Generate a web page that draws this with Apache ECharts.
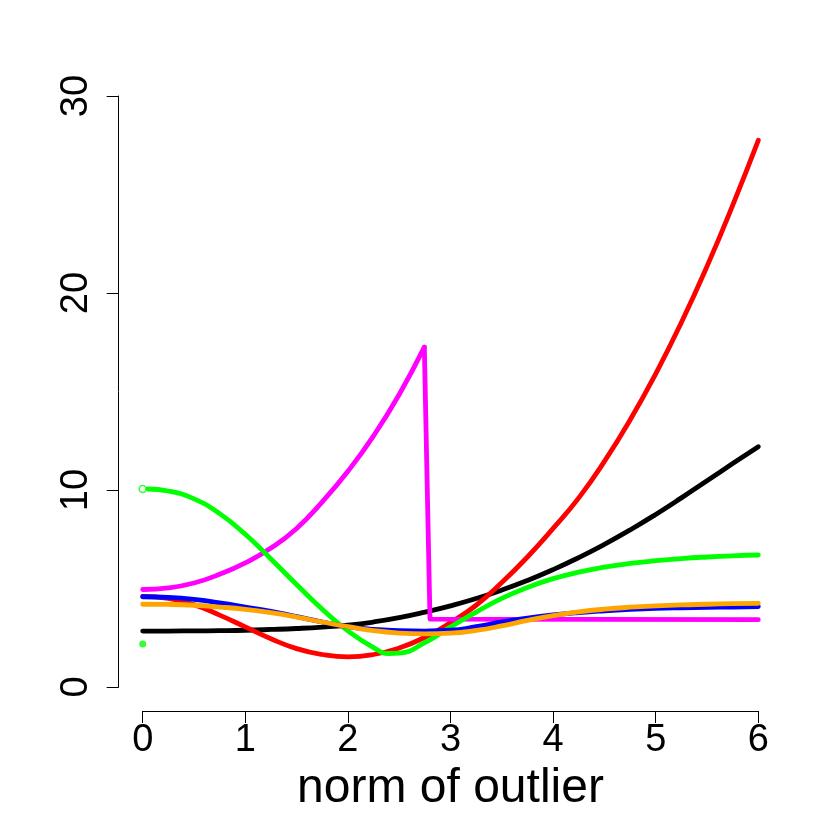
<!DOCTYPE html>
<html>
<head>
<meta charset="utf-8">
<script src="https://cdn.jsdelivr.net/npm/echarts@6/dist/echarts.min.js"></script>
<style>
  html, body { margin: 0; padding: 0; background: #ffffff; }
  #chart { width: 830px; height: 830px; }
</style>
</head>
<body>
<div id="chart"></div>
<script>
// ---- data ----
const xGrid = [0, 0.25, 0.5, 0.75, 1, 1.25, 1.5, 1.75, 2, 2.25, 2.5, 2.75, 3, 3.25, 3.5, 3.75, 4, 4.25, 4.5, 4.75, 5, 5.25, 5.5, 5.75, 6];
const blackVals  = [2.84, 2.84, 2.85, 2.86, 2.88, 2.92, 2.97, 3.04, 3.14, 3.30, 3.52, 3.80, 4.12, 4.49, 4.92, 5.41, 5.96, 6.57, 7.24, 7.97, 8.76, 9.60, 10.47, 11.34, 12.2];
const redVals    = [4.60, 4.50, 4.18, 3.65, 3.05, 2.45, 1.95, 1.65, 1.53, 1.65, 1.98, 2.52, 3.27, 4.15, 5.30, 6.60, 8.05, 9.60, 11.45, 13.55, 15.9, 18.5, 21.35, 24.45, 27.75];
const blueVals   = [4.58, 4.55, 4.45, 4.27, 4.06, 3.84, 3.57, 3.30, 3.06, 2.92, 2.86, 2.84, 2.88, 3.06, 3.30, 3.50, 3.66, 3.78, 3.87, 3.94, 3.99, 4.02, 4.04, 4.06, 4.08];
const orangeVals = [4.20, 4.19, 4.15, 4.06, 3.94, 3.77, 3.55, 3.30, 3.06, 2.86, 2.74, 2.70, 2.73, 2.87, 3.10, 3.38, 3.62, 3.81, 3.95, 4.05, 4.12, 4.17, 4.20, 4.23, 4.25];
const greenX     = [0.05, 0.25, 0.5, 0.75, 1, 1.25, 1.5, 1.75, 2, 2.25, 2.4, 2.5, 2.75, 3, 3.25, 3.5, 3.75, 4, 4.25, 4.5, 4.75, 5, 5.25, 5.5, 5.75, 6];
const greenVals  = [10.05, 9.95, 9.55, 8.80, 7.75, 6.50, 5.20, 3.95, 2.85, 2.00, 1.70, 1.72, 2.25, 3.05, 3.80, 4.50, 5.05, 5.50, 5.83, 6.08, 6.27, 6.41, 6.52, 6.60, 6.66, 6.70];
const greenLimitPoint = [[0, 10.05]];
const greenZeroPoint  = [[0, 2.18]];
const magentaRiseX = [0, 0.25, 0.5, 0.75, 1, 1.25, 1.5, 1.75, 2, 2.25, 2.5, 2.745];
const magentaRiseY = [4.95, 5.03, 5.28, 5.72, 6.30, 7.05, 8.05, 9.40, 10.95, 12.75, 14.85, 17.25];
const magentaDropX = [2.745, 2.80, 6];
const magentaDropY = [17.25, 3.45, 3.42];
const xTicks = [0, 1, 2, 3, 4, 5, 6];
const yTicks = [0, 10, 20, 30];
const xTitle = 'norm of outlier';

function zip(xs, ys) { return xs.map((x, i) => [x, ys[i]]); }

const FONT = '"Liberation Sans", Arial, Helvetica, sans-serif';
const LW = 4.8;

function lineSeries(data, color, smooth) {
  return {
    type: 'line', data: data, showSymbol: false, symbol: 'none',
    smooth: smooth, clip: false,
    lineStyle: { color: color, width: LW, cap: 'round', join: 'round' },
    emphasis: { disabled: true }, silent: true
  };
}

const chart = echarts.init(document.getElementById('chart'), null, { renderer: 'canvas' });
chart.setOption({
  animation: false,
  backgroundColor: '#ffffff',
  grid: { left: 142.7, right: 71.7, top: 96, bottom: 143, containLabel: false },
  xAxis: {
    type: 'value', min: xTicks[0], max: xTicks[xTicks.length - 1], interval: 1,
    offset: 24,
    axisLine: { show: true, onZero: false, lineStyle: { color: '#000', width: 1 } },
    axisTick: { show: true, length: 12, lineStyle: { color: '#000', width: 1 } },
    axisLabel: { show: true, color: '#000', fontSize: 38, fontFamily: FONT, margin: 11,
      formatter: v => xTicks.includes(v) ? String(v) : '' },
    splitLine: { show: false },
    name: xTitle, nameLocation: 'middle', nameGap: 42,
    nameTextStyle: { color: '#000', fontSize: 48, fontFamily: FONT }
  },
  yAxis: {
    type: 'value', min: yTicks[0], max: yTicks[yTicks.length - 1], interval: 10,
    offset: 24,
    axisLine: { show: true, onZero: false, lineStyle: { color: '#000', width: 1 } },
    axisTick: { show: true, length: 12, lineStyle: { color: '#000', width: 1 } },
    axisLabel: { show: true, color: '#000', fontSize: 38, fontFamily: FONT, margin: 23, rotate: 90,
      formatter: v => yTicks.includes(v) ? String(v) : '' },
    splitLine: { show: false }
  },
  series: [
    lineSeries(zip(xGrid, blackVals), '#000000', 0.5),
    lineSeries(zip(xGrid, redVals), '#ff0000', 0.5),
    lineSeries(zip(magentaRiseX, magentaRiseY), '#ff00ff', 0.5),
    lineSeries(zip(magentaDropX, magentaDropY), '#ff00ff', false),
    lineSeries(zip(greenX, greenVals), '#00ff00', 0.5),
    lineSeries(zip(xGrid, blueVals), '#0000ff', 0.5),
    lineSeries(zip(xGrid, orangeVals), '#ffa500', 0.5),
    {
      type: 'scatter', data: greenLimitPoint, symbol: 'circle', symbolSize: 7,
      itemStyle: { color: '#ffffff', borderColor: '#00ff00', borderWidth: 1.5 },
      silent: true, clip: false
    },
    {
      type: 'scatter', data: greenZeroPoint, symbol: 'circle', symbolSize: 7,
      itemStyle: { color: '#00ff00' }, silent: true, clip: false
    }
  ]
});
</script>
</body>
</html>
